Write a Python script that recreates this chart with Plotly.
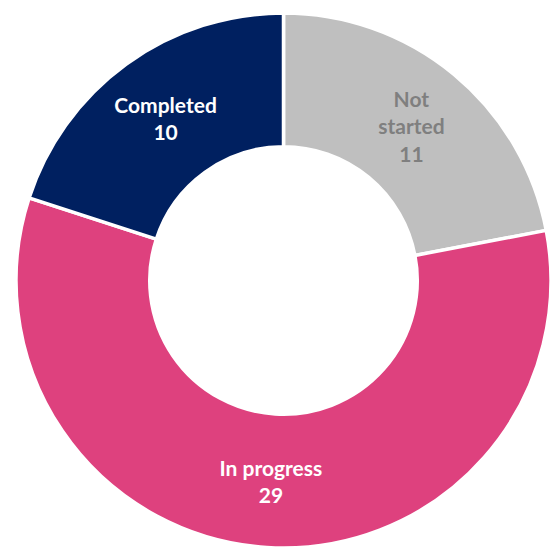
import plotly.graph_objects as go

labels = ["Not started", "In progress", "Completed"]
display_labels = ["Not<br>started", "In progress", "Completed"]
values = [11, 29, 10]
colors = ["#BFBFBF", "#DE417E", "#002060"]
text_colors = ["#7F7F7F", "#FFFFFF", "#FFFFFF"]

W, H = 555, 548
cx, cy, r = 283.5, 280.5, 267.5

fig = go.Figure(go.Pie(
    labels=labels,
    values=values,
    text=display_labels,
    texttemplate="%{text}<br>%{value}",
    textinfo="text+value",
    textposition="inside",
    insidetextorientation="horizontal",
    textfont=dict(family="Lato", size=21, color=text_colors),
    hole=0.5,
    sort=False,
    direction="clockwise",
    rotation=0,
    marker=dict(colors=colors, line=dict(color="#FFFFFF", width=3.5)),
    showlegend=False,
    domain=dict(x=[(cx - r) / W, (cx + r) / W], y=[max(0, 1 - (cy + r) / H), 1 - (cy - r) / H]),
))
fig.update_traces(textfont_weight="bold")
fig.update_layout(
    width=W, height=H,
    margin=dict(l=0, r=0, t=0, b=0),
    paper_bgcolor="white",
    plot_bgcolor="white",
)
fig.write_html("out.html")
